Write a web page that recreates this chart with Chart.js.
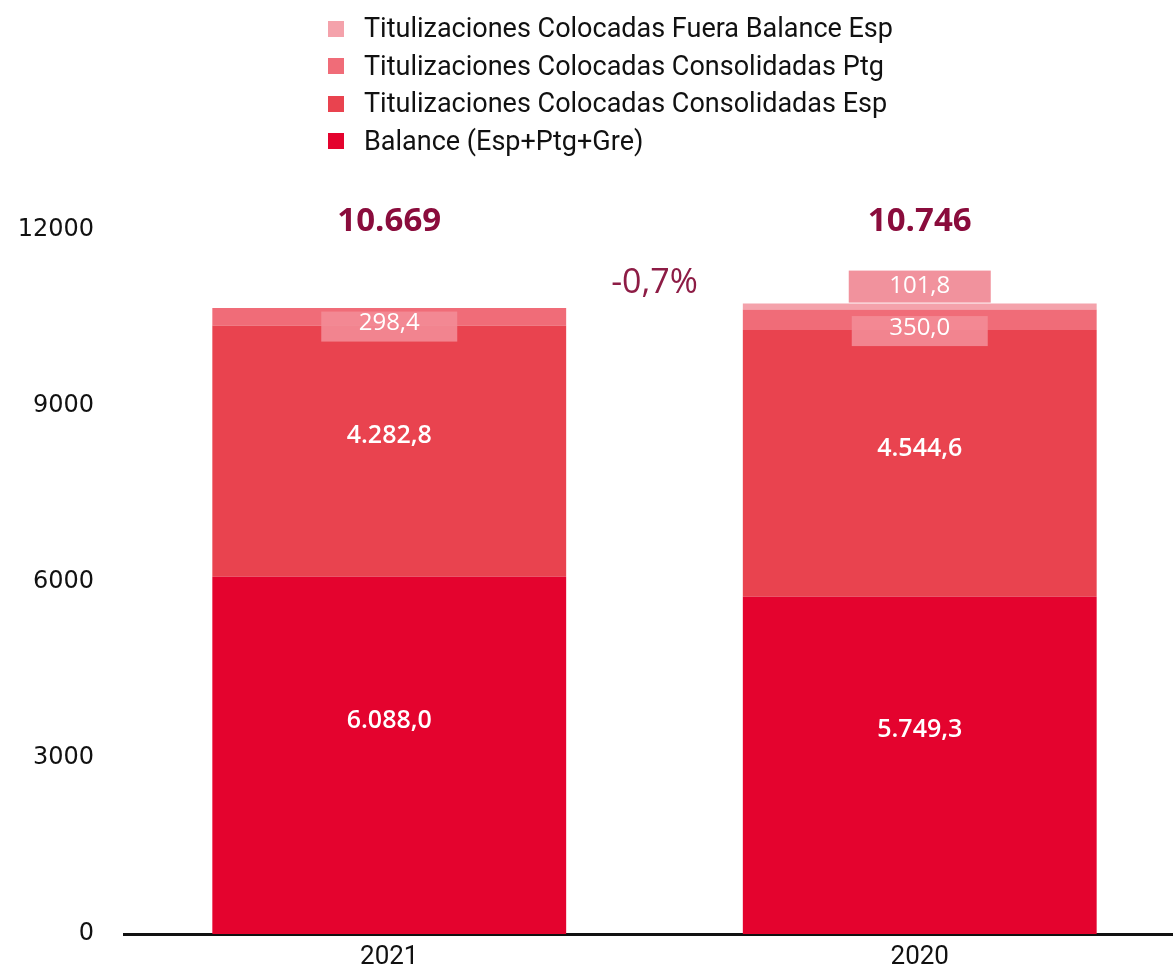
<!DOCTYPE html>
<html>
<head>
<meta charset="utf-8">
<script src="https://cdn.jsdelivr.net/npm/chart.js@4.4.1/dist/chart.umd.min.js"></script>
<style>
  html, body { margin: 0; padding: 0; background: #fff; overflow: hidden; }
  #wrap { position: relative; width: 1190px; height: 980px; }
  #legend { position: absolute; left: 328px; top: 10px; font-family: Roboto, sans-serif; font-size: 27px; color: #111; }
  #legend div { height: 37.5px; line-height: 37.5px; display: flex; align-items: center; }
  #legend span.box { display: inline-block; width: 16px; height: 16px; margin-right: 20px; }
</style>
</head>
<body>
<div id="wrap">
  <canvas id="chart" width="1190" height="980"></canvas>
  <div id="legend"></div>
</div>
<script>
const years = ['2021', '2020'];
const balance = [6088.0, 5749.3];
const consolidadasEsp = [4282.8, 4544.6];
const consolidadasPtg = [298.4, 350.0];
const fueraBalanceEsp = [0, 101.8];
const yTicks = [0, 3000, 6000, 9000, 12000];

// numbers in spanish style: 4.282,8
const fmt = (v, dec) => {
  const parts = v.toFixed(dec).split('.');
  parts[0] = parts[0].replace(/\B(?=(\d{3})+(?!\d))/g, '.');
  return parts.join(',');
};

const labelsPlugin = {
  id: 'segmentLabels',
  afterDatasetsDraw(chart) {
    const ctx = chart.ctx;
    ctx.save();
    ctx.textAlign = 'center';
    ctx.textBaseline = 'middle';
    chart.data.datasets.forEach((ds, i) => {
      const meta = chart.getDatasetMeta(i);
      meta.data.forEach((el, j) => {
        const v = ds.data[j];
        if (!v) return;
        // big segments: label a bit above the middle
        let y = (el.y + el.base) / 2 - (i === 0 ? 35 : 15);
        ctx.font = '600 25px "Open Sans", sans-serif';
        if (v < 200) {
          y = el.y - 17;
          ctx.font = '500 24px "Open Sans", sans-serif';
          ctx.fillStyle = 'rgba(240,140,152,0.95)';
          ctx.fillRect(el.x - 71, y - 16, 142, 32);
        } else if (v < 500) {
          y = el.base - 2;
          ctx.font = '500 24px "Open Sans", sans-serif';
          ctx.fillStyle = 'rgba(243,140,150,0.9)';
          ctx.fillRect(el.x - 68, y - 12, 136, 30);
        }
        ctx.fillStyle = '#fff';
        ctx.fillText(fmt(v, 1), el.x, y);
      });
    });

    // totals over each bar
    const totals = years.map((_, j) => chart.data.datasets.reduce((s, d) => s + d.data[j], 0));
    const xs = chart.getDatasetMeta(0).data.map(el => el.x);
    ctx.font = 'bold 33px "Open Sans", sans-serif';
    ctx.fillStyle = '#8a0c3c';
    totals.forEach((t, j) => ctx.fillText(fmt(Math.round(t), 0), xs[j], 222));

    // variation between years
    const change = (totals[0] - totals[1]) / totals[1] * 100;
    ctx.font = '34px "Open Sans", sans-serif';
    ctx.fillStyle = '#8d1c45';
    ctx.fillText(fmt(change, 1) + '%', (xs[0] + xs[1]) / 2, 283);
    ctx.restore();
  }
};

const chart = new Chart(document.getElementById('chart'), {
  type: 'bar',
  data: {
    labels: years,
    datasets: [
      { label: 'Balance (Esp+Ptg+Gre)', data: balance, backgroundColor: '#e4032e' },
      { label: 'Titulizaciones Colocadas Consolidadas Esp', data: consolidadasEsp, backgroundColor: '#e9434f' },
      { label: 'Titulizaciones Colocadas Consolidadas Ptg', data: consolidadasPtg, backgroundColor: '#f06c78' },
      { label: 'Titulizaciones Colocadas Fuera Balance Esp', data: fueraBalanceEsp, backgroundColor: '#f4a2ab' }
    ]
  },
  options: {
    responsive: false,
    animation: false,
    layout: { padding: { top: 230, bottom: 0, right: 5, left: 0 } },
    datasets: { bar: { barPercentage: 0.667, categoryPercentage: 1 } },
    plugins: {
      legend: { display: false },
      tooltip: { enabled: false }
    },
    scales: {
      x: {
        stacked: true,
        afterFit: s => { s.height = 46; },
        grid: { display: false, drawTicks: false },
        border: { display: true, color: '#111', width: 3 },
        ticks: { color: '#111', padding: 8, font: { family: 'Roboto', size: 26 } }
      },
      y: {
        stacked: true,
        min: 0,
        max: 12000,
        afterFit: s => { s.width = 124; },
        afterBuildTicks: s => { s.ticks = yTicks.map(v => ({ value: v })); },
        grid: { display: false, drawTicks: false },
        border: { display: false },
        ticks: {
          color: '#111', padding: 30, font: { family: 'DejaVu Sans', size: 24 },
          callback: v => String(v)
        }
      }
    }
  },
  plugins: [labelsPlugin]
});

// vertical legend, top item = last dataset
const legend = document.getElementById('legend');
chart.data.datasets.slice().reverse().forEach(ds => {
  const row = document.createElement('div');
  row.innerHTML = `<span class="box" style="background:${ds.backgroundColor}"></span>${ds.label}`;
  legend.appendChild(row);
});
</script>
</body>
</html>
